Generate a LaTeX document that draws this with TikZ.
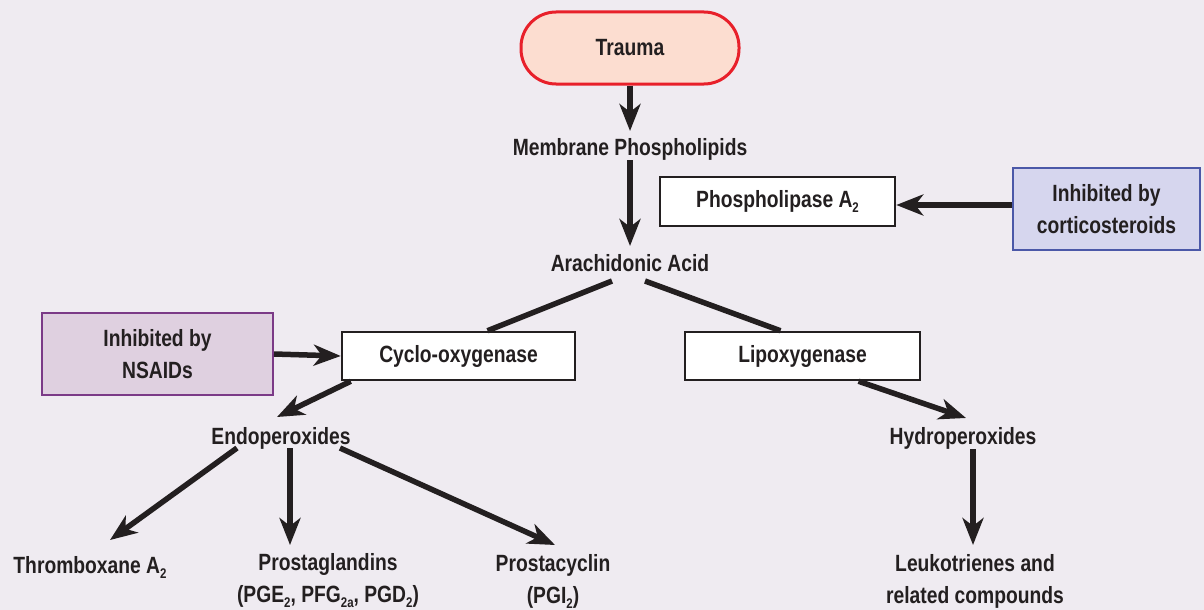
\documentclass[tikz,border=0pt]{standalone}
\usepackage{fontspec}
\setmainfont{Liberation Sans}[FakeStretch=0.82]
\usetikzlibrary{arrows.meta,calc}
\definecolor{bg}{RGB}{239,235,241}
\definecolor{ink}{RGB}{35,31,32}
\definecolor{traumafill}{RGB}{252,221,208}
\definecolor{traumaline}{RGB}{232,32,42}
\definecolor{cortfill}{RGB}{214,214,238}
\definecolor{cortline}{RGB}{75,88,168}
\definecolor{nsfill}{RGB}{223,208,224}
\definecolor{nsline}{RGB}{123,58,135}
\newcommand{\lowsub}[1]{\raisebox{-5pt}{\fontsize{14}{14}\selectfont #1}}
\tikzset{
  every node/.style={font=\fontsize{23.5}{32}\selectfont\bfseries, text=ink, align=center},
  lbl/.style={inner sep=0pt},
  wbox/.style={draw=ink, line width=2.5pt, fill=white, minimum width=233pt, minimum height=48pt, inner sep=0pt},
  rbox/.style={draw=traumaline, line width=3pt, fill=traumafill, rounded corners=35pt, minimum width=218pt, minimum height=72pt, inner sep=0pt},
  cbox/.style={draw=cortline, line width=2.5pt, fill=cortfill, minimum width=187pt, minimum height=82pt, inner sep=0pt},
  nbox/.style={draw=nsline, line width=2pt, fill=nsfill, minimum width=231pt, minimum height=82pt, inner sep=0pt},
  arr/.style={draw=ink, line width=5.5pt, -{Stealth[length=27pt,width=21pt,inset=8pt]}},
  ln/.style={draw=ink, line width=5.5pt}
}
\begin{document}
\begin{tikzpicture}[x=1pt,y=-1pt]
\fill[bg] (0,0) rectangle (1204,610);
\useasboundingbox (0,0) rectangle (1204,610);

\node[rbox] (trauma) at (630,48) {Trauma};
\node[lbl] (mem) at (630,149) {Membrane Phospholipids};
\node[lbl] (arach) at (630,263) {Arachidonic Acid};
\node[wbox, minimum width=235pt, minimum height=49pt] (pla) at (777.5,201.5) {Phospholipase A\lowsub{2}};
\node[cbox] (cort) at (1106.5,209) {Inhibited by\\corticosteroids};
\node[wbox] (cox) at (458.5,356) {Cyclo-oxygenase};
\node[wbox, minimum width=235pt] (lox) at (802.5,356) {Lipoxygenase};
\node[nbox] (nsaid) at (157.5,354) {Inhibited by\\NSAIDs};
\node[lbl] (endo) at (281,438) {Endoperoxides};
\node[lbl] (hydro) at (963,438) {Hydroperoxides};
\node[lbl] (thromb) at (90,567) {Thromboxane A\lowsub{2}};
\node[lbl] (pg) at (328,581) {Prostaglandins\\(PGE\lowsub{2}, PFG\lowsub{2a}, PGD\lowsub{2})};
\node[lbl] (pgi) at (553,581) {Prostacyclin\\(PGI\lowsub{2})};
\node[lbl] (leuko) at (975,581) {Leukotrienes and\\related compounds};

\draw[arr] (trauma.south) -- ($(mem.center)+(0,-18)$);
\draw[arr] ($(mem.center)+(0,11)$) -- ($(arach.center)+(0,-17)$);
\draw[arr] ($(cort.west)+(0,-4)$) -- ($(pla.east)+(0,3.5)$);
\draw[ln] ($(arach.center)+(-18,18)$) -- ($(cox.north)+(29,0)$);
\draw[ln] ($(arach.center)+(15,18)$) -- ($(lox.north)+(-22,0)$);
\draw[arr] (nsaid.east) -- (cox.west);
\draw[arr] ($(cox.south west)+(10,0)$) -- ($(endo.center)+(-4,-21)$);
\draw[arr] ($(lox.south)+(56,0)$) -- ($(hydro.center)+(3,-20)$);
\draw[arr] ($(endo.center)+(-44,10)$) -- ($(thromb.center)+(20,-27)$);
\draw[arr] ($(endo.center)+(9,10)$) -- ($(pg.center)+(-38,-36)$);
\draw[arr] ($(endo.center)+(59,10)$) -- ($(pgi.center)+(2,-36)$);
\draw[arr] ($(hydro.center)+(10,11)$) -- ($(leuko.center)+(-2,-36)$);
\end{tikzpicture}
\end{document}
